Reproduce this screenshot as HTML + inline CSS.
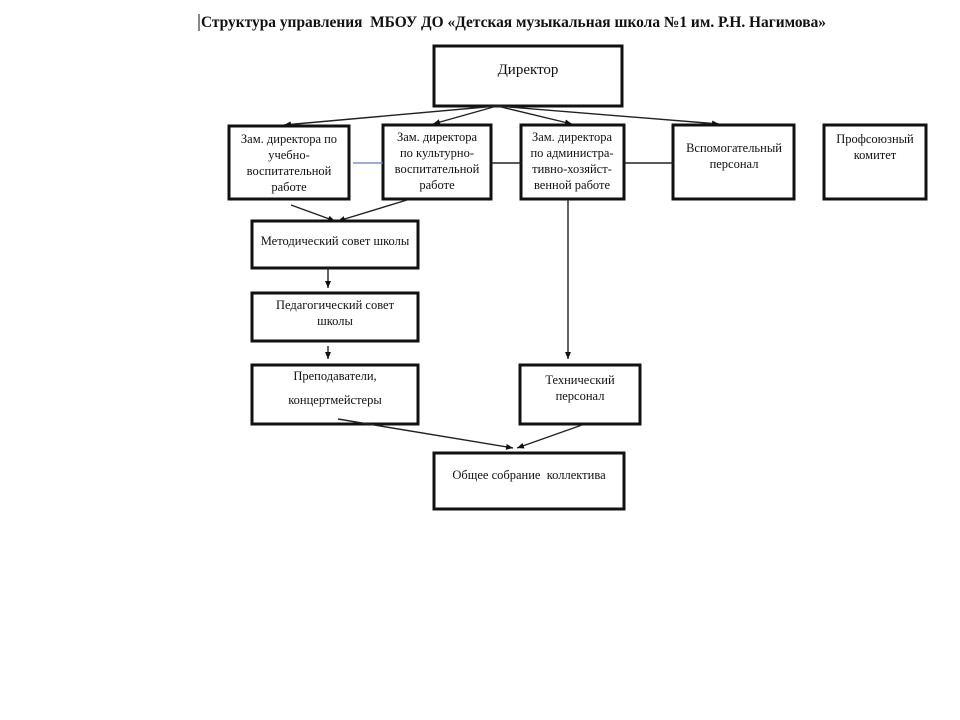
<!DOCTYPE html>
<html><head><meta charset="utf-8"><style>
html,body{margin:0;padding:0;background:#fff;}
svg{display:block;}
text{font-family:"Liberation Serif","DejaVu Serif",serif;fill:#111;}
</style></head><body>
<svg width="960" height="720" viewBox="0 0 960 720">
<defs>
<marker id="a" markerWidth="8" markerHeight="8" refX="7" refY="4" orient="auto" markerUnits="userSpaceOnUse">
<path d="M0,1 L7,4 L0,7 z" fill="#111"/></marker>
</defs>
<text x="201" y="27" font-size="15.5" font-weight="bold" textLength="625" lengthAdjust="spacingAndGlyphs">Структура управления &#160;МБОУ ДО «Детская музыкальная школа №1 им. Р.Н. Нагимова»</text>
<line x1="199" y1="14" x2="199" y2="31" stroke="#111" stroke-width="1"/>
<g fill="none" stroke="#111" stroke-width="3">
<rect x="434" y="46" width="188" height="60"/>
<rect x="229" y="126" width="120" height="73"/>
<rect x="383" y="125" width="108" height="74"/>
<rect x="521" y="125" width="103" height="74"/>
<rect x="673" y="125" width="121" height="74"/>
<rect x="824" y="125" width="102" height="74"/>
<rect x="252" y="221" width="166" height="47"/>
<rect x="252" y="293" width="166" height="48"/>
<rect x="252" y="365" width="166" height="59"/>
<rect x="520" y="365" width="120" height="59"/>
<rect x="434" y="453" width="190" height="56"/>
</g>
<g stroke="#222" stroke-width="1.4" fill="none">
<line x1="497" y1="106" x2="284" y2="125" marker-end="url(#a)"/>
<line x1="497" y1="106" x2="433" y2="124" marker-end="url(#a)"/>
<line x1="497" y1="106" x2="572" y2="124" marker-end="url(#a)"/>
<line x1="497" y1="106" x2="719" y2="124" marker-end="url(#a)"/>
<line x1="491" y1="163" x2="521" y2="163"/>
<line x1="624" y1="163" x2="673" y2="163"/>
<line x1="291" y1="205" x2="335" y2="221" marker-end="url(#a)"/>
<line x1="407" y1="200" x2="338" y2="221" marker-end="url(#a)"/>
<line x1="328" y1="268" x2="328" y2="288" marker-end="url(#a)"/>
<line x1="328" y1="346" x2="328" y2="359" marker-end="url(#a)"/>
<line x1="568" y1="199" x2="568" y2="359" marker-end="url(#a)"/>
<line x1="338" y1="419" x2="513" y2="448" marker-end="url(#a)"/>
<line x1="582" y1="425" x2="517" y2="448" marker-end="url(#a)"/>
</g>
<line x1="353" y1="163" x2="383" y2="163" stroke="#5b7fc7" stroke-width="1.2"/>
<g font-size="12.5" text-anchor="middle">
<text x="528" y="74" font-size="15">Директор</text>
<text x="289" y="143">Зам. директора по</text>
<text x="289" y="159">учебно-</text>
<text x="289" y="175">воспитательной</text>
<text x="289" y="191">работе</text>
<text x="437" y="141">Зам. директора</text>
<text x="437" y="157">по культурно-</text>
<text x="437" y="173">воспитательной</text>
<text x="437" y="189">работе</text>
<text x="572" y="141">Зам. директора</text>
<text x="572" y="157">по администра-</text>
<text x="572" y="173">тивно-хозяйст-</text>
<text x="572" y="189">венной работе</text>
<text x="734" y="152">Вспомогательный</text>
<text x="734" y="168">персонал</text>
<text x="875" y="143">Профсоюзный</text>
<text x="875" y="159">комитет</text>
<text x="335" y="245">Методический совет школы</text>
<text x="335" y="309">Педагогический совет</text>
<text x="335" y="325">школы</text>
<text x="335" y="380">Преподаватели,</text>
<text x="335" y="404">концертмейстеры</text>
<text x="580" y="384">Технический</text>
<text x="580" y="400">персонал</text>
<text x="529" y="479">Общее собрание &#160;коллектива</text>
</g>
</svg>
</body></html>
